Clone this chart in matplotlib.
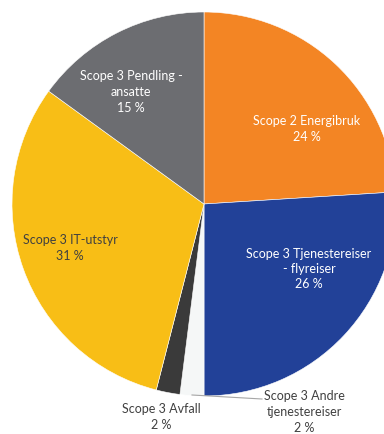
import matplotlib.pyplot as plt

# emission shares (%) going clockwise from 12 o'clock
categories = ["Scope 2 Energibruk",
              "Scope 3 Tjenestereiser\n- flyreiser",
              "Scope 3 Andre\ntjenestereiser",
              "Scope 3 Avfall",
              "Scope 3 IT-utstyr",
              "Scope 3 Pendling -\nansatte"]
shares = [24, 26, 2, 2, 31, 15]

colors = ["#F38524", "#224198", "#F5F7F7", "#3A3A3A", "#F8BE16", "#6C6D71"]
text_colors = ["white", "white", "#404040", "#404040", "#404040", "white"]
# label centres in pixels (x from left, y from top)
label_pos = [(307, 129), (309, 269), (304, 412), (161, 417), (70, 248), (131, 92)]

W, H = 384, 434
fig = plt.figure(figsize=(W / 100, H / 100), dpi=100)
ax = fig.add_axes([0, 0, 1, 1])

cx, cy, r = 204, 204, 192
ax.pie(shares, colors=colors, startangle=90, counterclock=False,
       center=(cx, H - cy), radius=r,
       wedgeprops=dict(linewidth=0.4, edgecolor="white"))

for name, val, (px, py), tc in zip(categories, shares, label_pos, text_colors):
    ax.text(px, H - py, f"{name}\n{val} %", ha="center", va="center",
            color=tc, fontsize=9, family="Lato", linespacing=1.35)

# leader line for the small "Andre tjenestereiser" slice
ax.plot([192, 262], [H - 395, H - 399], color="#A6A6A6", lw=0.8)

ax.set_xlim(0, W)
ax.set_ylim(0, H)
ax.set_aspect("equal")
ax.axis("off")

fig.savefig("out.png", dpi=100)
